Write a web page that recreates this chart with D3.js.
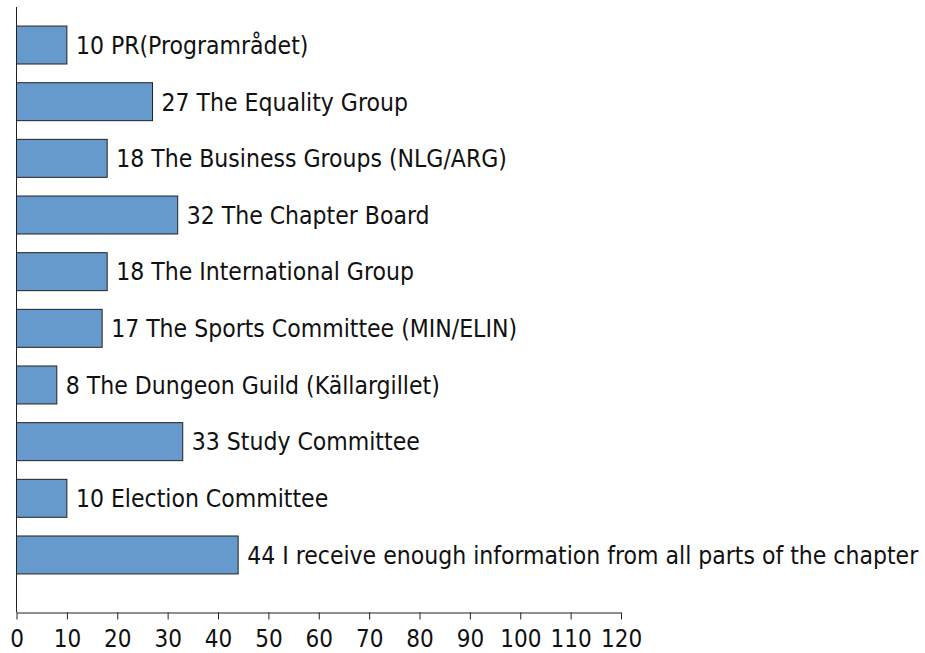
<!DOCTYPE html>
<html>
<head>
<meta charset="utf-8">
<script src="https://cdn.jsdelivr.net/npm/d3@7"></script>
<style>
  body { margin: 0; background: #fff; }
  text { font-family: "DejaVu Sans Condensed", "DejaVu Sans", sans-serif; }
</style>
</head>
<body>
<div id="chart"></div>
<script>
// categories top to bottom, with their counts
var categories = [
  "PR(Programrådet)",
  "The Equality Group",
  "The Business Groups (NLG/ARG)",
  "The Chapter Board",
  "The International Group",
  "The Sports Committee (MIN/ELIN)",
  "The Dungeon Guild (Källargillet)",
  "Study Committee",
  "Election Committee",
  "I receive enough information from all parts of the chapter"
];
var values = [10, 27, 18, 32, 18, 17, 8, 33, 10, 44];
var xTicks = [0, 10, 20, 30, 40, 50, 60, 70, 80, 90, 100, 110, 120];

var width = 925, height = 653;

var svg = d3.select("#chart")
  .append("svg")
    .attr("width", width)
    .attr("height", height);

// x scale
var x = d3.scaleLinear()
  .domain([0, 120])
  .range([16.5, 621]);

// y band scale
var y = d3.scaleBand()
  .domain(categories)
  .range([16.7, 583.3])
  .paddingInner(0.33)
  .paddingOuter(0.165);

// x axis
var xAxis = svg.append("g")
  .attr("transform", "translate(0,612.5)")
  .call(d3.axisBottom(x).tickValues(xTicks).tickSize(7).tickPadding(10).tickSizeOuter(0));
xAxis.select(".domain").attr("stroke", "#222");
xAxis.selectAll(".tick line").attr("stroke", "#222");
xAxis.selectAll(".tick text")
  .attr("fill", "#111")
  .style("font-size", "24px")
  .style("font-family", "'DejaVu Sans Condensed', 'DejaVu Sans', sans-serif");

// y axis line
svg.append("line")
  .attr("x1", x(0)).attr("x2", x(0))
  .attr("y1", 7).attr("y2", 612.5)
  .attr("stroke", "#222");

// bars
svg.selectAll("rect.bar")
  .data(categories)
  .enter()
  .append("rect")
    .attr("class", "bar")
    .attr("x", x(0))
    .attr("y", function(d) { return y(d); })
    .attr("width", function(d, i) { return x(values[i]) - x(0); })
    .attr("height", y.bandwidth())
    .style("fill", "#6699cc")
    .style("stroke", "#222")
    .style("stroke-width", 1);

// labels
svg.selectAll("text.lbl")
  .data(categories)
  .enter()
  .append("text")
    .attr("class", "lbl")
    .attr("x", function(d, i) { return x(values[i]) + 9; })
    .attr("y", function(d) { return y(d) + y.bandwidth() / 2; })
    .attr("dy", "0.36em")
    .style("font-size", "24.5px")
    .style("fill", "#111")
    .text(function(d, i) { return values[i] + " " + d; });
</script>
</body>
</html>
